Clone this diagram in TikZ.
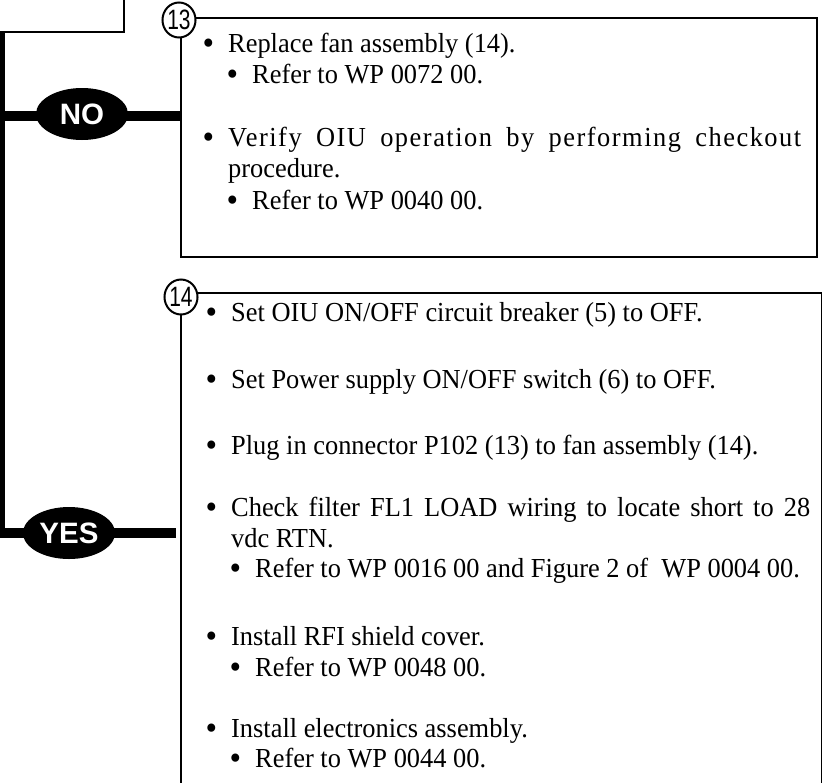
\documentclass[tikz,border=0pt]{standalone}
\usepackage{fontspec}
\setmainfont{Liberation Serif}[FakeStretch=0.96]
\setsansfont{Liberation Sans}
\newfontfamily\calloutfont{Liberation Sans}[FakeStretch=0.75]
\usetikzlibrary{shapes.geometric, backgrounds, calc}

\newcommand{\bul}{\leavevmode\llap{\raisebox{-2.5pt}{\scalebox{1.25}{\textbullet}}\hskip 14pt}}

\begin{document}
\begin{tikzpicture}[
  x=1pt, y=-1pt,
  font=\fontsize{27.5}{31}\selectfont,
  frame/.style={
    draw=black,
    line width=2.4pt,
    fill=white,
    inner sep=0pt
  },
  trunk/.style={
    line width=10pt,
    draw=black
  },
  answer/.style={
    ellipse,
    fill=black,
    text=white,
    inner sep=0pt,
    minimum width=92pt,
    minimum height=52pt,
    font=\sffamily\bfseries\fontsize{29.5}{30}\selectfont
  },
  callout/.style={
    ellipse,
    draw=black,
    fill=white,
    line width=2pt,
    inner sep=0pt,
    minimum width=31pt,
    minimum height=35pt,
    font=\calloutfont\fontsize{28}{28}\selectfont
  },
  mainitem/.style={
    anchor=base west,
    inner sep=0pt,
    align=justify
  },
  subitem/.style={
    anchor=base west,
    inner sep=0pt
  }
]

\useasboundingbox (0,0) rectangle (822,782);

\node[frame, minimum width=135pt, minimum height=120pt, anchor=south east] (prev) at (125,33) {};

\node[frame, minimum width=636pt, minimum height=239pt, anchor=north west] (box13) at (180,17) {};
\node[frame, minimum width=641pt, minimum height=520pt, anchor=north west] (box14) at (180,292) {};

\node[answer] (no) at (82,114) {NO};
\node[answer] (yes) at (69,533) {YES};

\coordinate (top) at ([xshift=12pt]prev.south west);

\begin{scope}[on background layer]
  \draw[trunk] (top) |- (yes.center) -- ($(yes.center -| box14.west)+(-4,0)$);
  \draw[trunk] ($(top |- no.center)+(0,2)$) -- ($(no.center -| box13.west)+(0,2)$);
\end{scope}

\node[callout] (c13) at ($(box13.north west)+(-1,3)$) {13};
\node[callout] (c14) at ($(box14.north west)+(1,5)$) {14};

\node[subitem] (fan) at (228,52) {\bul Replace fan assembly (14).};
\node[subitem] (fanref) at (252,83) {\bul Refer to WP 0072 00.};
\node[mainitem, text width=573pt] (verify) at (228,146)
  {\bul{\addfontfeature{LetterSpace=5.5}Verify OIU operation by performing checkout}\linebreak procedure.};
\node[subitem] (verifyref) at (252,209) {\bul Refer to WP 0040 00.};

\node[subitem] (breaker) at (231,321) {\bul Set OIU ON/OFF circuit breaker (5) to OFF.};
\node[subitem] (supply) at (231,388) {\bul Set Power supply ON/OFF switch (6) to OFF.};
\node[subitem] (plug) at (231,454) {\bul Plug in connector P102 (13) to fan assembly (14).};
\node[mainitem, text width=579pt] (filter) at (231,516)
  {\bul Check filter FL1 LOAD wiring to locate short to 28\linebreak vdc RTN.};
\node[subitem] (filterref) at (255,577) {\bul Refer to WP 0016 00 and Figure 2 of \ WP 0004 00.};
\node[subitem] (shield) at (231,645) {\bul Install RFI shield cover.};
\node[subitem] (shieldref) at (255,676) {\bul Refer to WP 0048 00.};
\node[subitem] (elec) at (231,737) {\bul Install electronics assembly.};
\node[subitem] (elecref) at (255,767) {\bul Refer to WP 0044 00.};

\end{tikzpicture}
\end{document}
